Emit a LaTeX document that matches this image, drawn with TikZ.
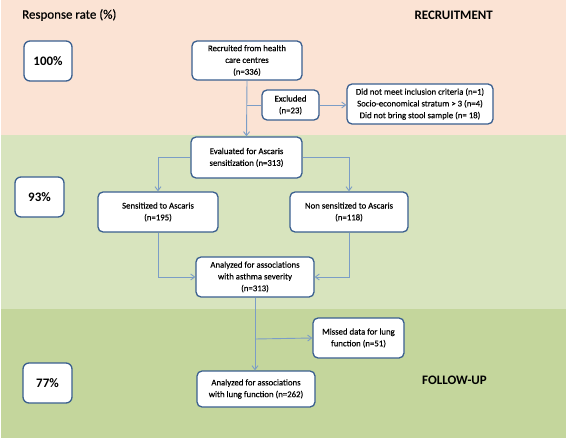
\documentclass[tikz,border=0pt]{standalone}
\usepackage{fontspec}
\setmainfont{Carlito}
\newfontface\semibf{Carlito}[FakeBold=0.4]
\usetikzlibrary{arrows.meta}
\definecolor{peach}{HTML}{FBE3D4}
\definecolor{lgreen}{HTML}{D8E4BE}
\definecolor{dgreen}{HTML}{C4D69C}
\definecolor{boxline}{HTML}{3A5F8F}
\definecolor{arrline}{HTML}{7B9DC6}
\tikzset{
  flowbox/.style={draw=boxline, line width=1.3bp, fill=white, rounded corners=5bp,
    align=center, inner sep=1bp, font=\fontsize{8.8}{11.8}\semibf},
  pctbox/.style={draw=boxline, line width=1.3bp, fill=white, rounded corners=6bp,
    align=center, inner sep=0bp, font=\fontsize{13}{15}\selectfont\bfseries,
    minimum width=48bp, minimum height=40bp},
  heading/.style={font=\fontsize{13}{15}\semibf, inner sep=0bp},
  conn/.style={draw=arrline, line width=0.9bp},
  arr/.style={conn, -{Straight Barb[length=4bp,width=6bp]}}
}
\begin{document}
\begin{tikzpicture}[x=1bp,y=-1bp]
\useasboundingbox (0,0) rectangle (567,440);
% bands
\fill[peach] (1,0) rectangle (566,135);
\fill[lgreen] (1,135) rectangle (566,309);
\fill[dgreen] (1,309) rectangle (566,438);
% headings
\node[heading, anchor=west] (hresp) at (22,15) {Response rate (\%)};
\node[heading, anchor=east, font=\fontsize{13}{15}\selectfont\bfseries] (hrec) at (493,15) {RECRUITMENT};
\node[heading, anchor=east, font=\fontsize{13}{15}\selectfont\bfseries] (hfol) at (487,380) {FOLLOW-UP};
% percentage boxes
\node[pctbox, minimum width=48bp, minimum height=40bp] (p100) at (48,61) {100\%};
\node[pctbox, minimum width=49bp, minimum height=40bp] (p93) at (39.5,197) {93\%};
\node[pctbox, minimum width=49bp, minimum height=40bp] (p77) at (47.5,383) {77\%};
% flow boxes
\node[flowbox, minimum width=110bp, minimum height=39bp] (rec) at (247,60.5) {Recruited from health\\care centres\\(n=336)};
\node[flowbox, minimum width=57bp, minimum height=30bp] (exc) at (290.5,105) {Excluded\\(n=23)};
\node[flowbox, minimum width=146bp, minimum height=40bp] (why) at (420,104) {Did not meet inclusion criteria (n=1)\\Socio-economical stratum \textgreater{} 3 (n=4)\\Did not bring stool sample (n= 18)};
\node[flowbox, minimum width=111bp, minimum height=41bp] (eva) at (246.5,157.5) {Evaluated for Ascaris\\sensitization (n=313)};
\node[flowbox, minimum width=120bp, minimum height=40bp] (sen) at (158,212) {Sensitized to Ascaris\\(n=195)};
\node[flowbox, minimum width=118bp, minimum height=40bp] (non) at (349,212) {Non sensitized to Ascaris\\(n=118)};
\node[flowbox, minimum width=118bp, minimum height=40bp] (ast) at (255,277) {Analyzed for associations\\with asthma severity\\(n=313)};
\node[flowbox, minimum width=91bp, minimum height=40bp] (mis) at (358.5,338) {Missed data for lung\\function (n=51)};
\node[flowbox, minimum width=118bp, minimum height=36bp] (lung) at (256,389) {Analyzed for associations\\with lung function (n=262)};
% connectors
\coordinate (j1) at (247,105);
\draw[arr] (rec.south) -- (eva.north);
\draw[conn] (j1) -- (exc.west);
\draw[arr] (exc.east) -- (why.west |- exc.east);
\draw[arr] (eva.west) -| (sen.north);
\draw[arr] (eva.east) -| (non.north);
\draw[arr] (sen.south) |- (ast.west);
\draw[arr] (non.south) |- (ast.east);
\draw[arr] (ast.south) -- (ast.south |- lung.north);
\coordinate (j2) at (255,339);
\draw[arr] (j2) -- (mis.west);
\end{tikzpicture}
\end{document}
